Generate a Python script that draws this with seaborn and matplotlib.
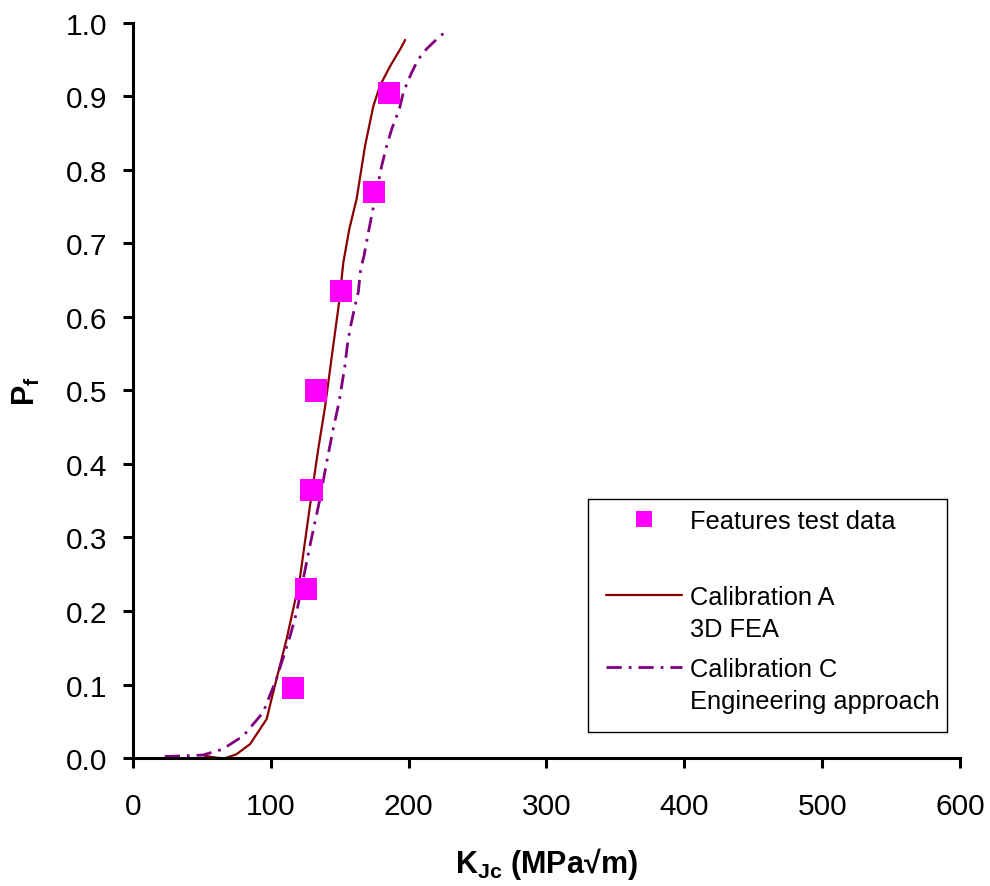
import numpy as np
import pandas as pd
import matplotlib
matplotlib.use("Agg")
import matplotlib.pyplot as plt
import seaborn as sns
from matplotlib.lines import Line2D
from matplotlib.patches import Rectangle
from matplotlib.legend_handler import HandlerLine2D

# Fracture toughness test results (median-rank probabilities)
test_k = [116, 125.5, 129.6, 132.7, 151.1, 175.1, 186]
test_pf = [0.095, 0.230, 0.365, 0.500, 0.635, 0.770, 0.905]

# Calibration A (3D FEA) predicted failure probability
cal_a_k = [52, 65.7, 75, 85, 97, 101.7, 111.5, 121, 128.4, 134.4, 139.3, 145.3,
           149.7, 152.6, 157, 162.3, 168.4, 174.4, 179.3, 186.5, 193.8, 197.5]
cal_a_pf = [0.003, -0.001, 0.005, 0.019, 0.053, 0.089, 0.162, 0.243, 0.343, 0.42,
            0.477, 0.561, 0.622, 0.674, 0.72, 0.761, 0.833, 0.887, 0.915, 0.941,
            0.964, 0.977]

# Calibration C (engineering approach) predicted failure probability
cal_c_k = [23, 50.7, 65, 80, 94.4, 104, 114, 118.7, 128.4, 135.6, 140.5, 145.3,
           149.5, 153.8, 155.5, 157.5, 160.6, 163.5, 165.2, 167.6, 170.8, 173.2,
           180.5, 184.1, 187.8, 193.3, 196.2, 202.3, 207.1, 213.2, 219.3, 227.8]
cal_c_pf = [0.002, 0.004, 0.012, 0.03, 0.062, 0.107, 0.166, 0.198, 0.289, 0.352,
            0.402, 0.448, 0.484, 0.534, 0.561, 0.584, 0.611, 0.634, 0.665, 0.683,
            0.715, 0.738, 0.806, 0.833, 0.856, 0.883, 0.906, 0.933, 0.951, 0.965,
            0.976, 0.99]

x_ticks = [0, 100, 200, 300, 400, 500, 600]
y_ticks = [0.0, 0.1, 0.2, 0.3, 0.4, 0.5, 0.6, 0.7, 0.8, 0.9, 1.0]

legend_labels = ["Features test data\n ",
                 "Calibration A\n3D FEA",
                 "Calibration C\nEngineering approach"]

sns.set_style("ticks")
plt.rcParams["font.family"] = ["Liberation Sans", "DejaVu Sans"]
plt.rcParams["mathtext.fontset"] = "custom"
plt.rcParams["mathtext.rm"] = "Liberation Sans"
plt.rcParams["mathtext.bf"] = "Liberation Sans:bold"
plt.rcParams["text.color"] = "black"
plt.rcParams["axes.labelcolor"] = "black"

RED = "#8B0000"
PURPLE = "#800080"
MAGENTA = "#FF00FF"
DASH_DOT = (5.5, 2.5, 1, 2.5)

fig = plt.figure(figsize=(9.9, 8.87), dpi=100)
ax = fig.add_axes([0.1343, 0.1443, 0.8354, 0.8287])

df_a = pd.DataFrame({"K": cal_a_k, "Pf": cal_a_pf})
df_c = pd.DataFrame({"K": cal_c_k, "Pf": cal_c_pf})
df_t = pd.DataFrame({"K": test_k, "Pf": test_pf})

sns.lineplot(data=df_a, x="K", y="Pf", ax=ax, color=RED, lw=1.6,
             sort=False, estimator=None)
sns.lineplot(data=df_c, x="K", y="Pf", ax=ax, color=PURPLE, lw=2.0,
             sort=False, estimator=None)
ax.lines[-1].set_dashes(DASH_DOT)
sns.scatterplot(data=df_t, x="K", y="Pf", ax=ax, color=MAGENTA, marker="s",
                s=256, edgecolor="none", zorder=5)

ax.set_xlim(0, 600)
ax.set_ylim(0, 1.0)
ax.set_xticks(x_ticks)
ax.set_yticks(y_ticks)
ax.set_yticklabels([f"{v:.1f}" for v in y_ticks])
ax.tick_params(axis="both", direction="out", length=7.5, width=2.2,
               labelsize=21.5, color="black", labelcolor="black")
ax.tick_params(axis="x", pad=17)
ax.tick_params(axis="y", pad=11)
for side in ("left", "bottom"):
    ax.spines[side].set_linewidth(2.2)
    ax.spines[side].set_color("black")
sns.despine(ax=ax)

ax.set_xlabel(r"$\mathbf{K}_{\mathbf{Jc}}$ (MPa√m)", fontsize=22,
              fontweight="bold", labelpad=18)
ax.set_ylabel(r"$\mathbf{P}_{\mathbf{f}}$", fontsize=22, fontweight="bold",
              labelpad=17)


class FirstLineHandler(HandlerLine2D):
    """Place the legend handle beside the first line of a two-line label."""

    def __init__(self, shift, left, right, **kw):
        super().__init__(**kw)
        self.shift = shift
        self.left = left
        self.right = right

    def create_artists(self, legend, orig_handle, xdescent, ydescent, width,
                       height, fontsize, trans):
        arts = super().create_artists(legend, orig_handle, xdescent, ydescent,
                                      width, height, fontsize, trans)
        x0 = -xdescent + self.left * fontsize
        x1 = -xdescent + width - self.right * fontsize
        for a in arts:
            n = len(a.get_xdata())
            if n >= 2:
                a.set_xdata(np.linspace(x0, x1, n))
            else:
                a.set_xdata([0.5 * (x0 + x1)])
            a.set_ydata(np.asarray(a.get_ydata(), float) + self.shift * fontsize)
        return arts


handles = [
    Line2D([], [], marker="s", ls="none", color=MAGENTA, markersize=11.5,
           markeredgewidth=0),
    Line2D([], [], color=RED, lw=1.6),
    Line2D([], [], color=PURPLE, lw=2.0, dashes=DASH_DOT),
]
hmap = {handles[0]: FirstLineHandler(0.82, 0.4, 0.18),
        handles[1]: FirstLineHandler(0.72, 0.4, 0.18),
        handles[2]: FirstLineHandler(0.72, 0.4, 0.18)}
leg = ax.legend(handles, legend_labels, handler_map=hmap, loc="upper left",
                bbox_to_anchor=(0.5476, 0.352), borderaxespad=0, fontsize=18.3,
                frameon=False, handlelength=3.6, handletextpad=0.1,
                labelspacing=0.6, borderpad=0.38)
texts = leg.get_texts()
for t in texts:
    t.set_linespacing(1.45)
texts[0].set_linespacing(1.67)

# legend frame
ax.add_patch(Rectangle((0.550, 0.035), 0.434, 0.317, transform=ax.transAxes,
                       facecolor="white", edgecolor="black", lw=1.0, zorder=4))
leg.set_zorder(6)

fig.savefig("out.png", dpi=100)
